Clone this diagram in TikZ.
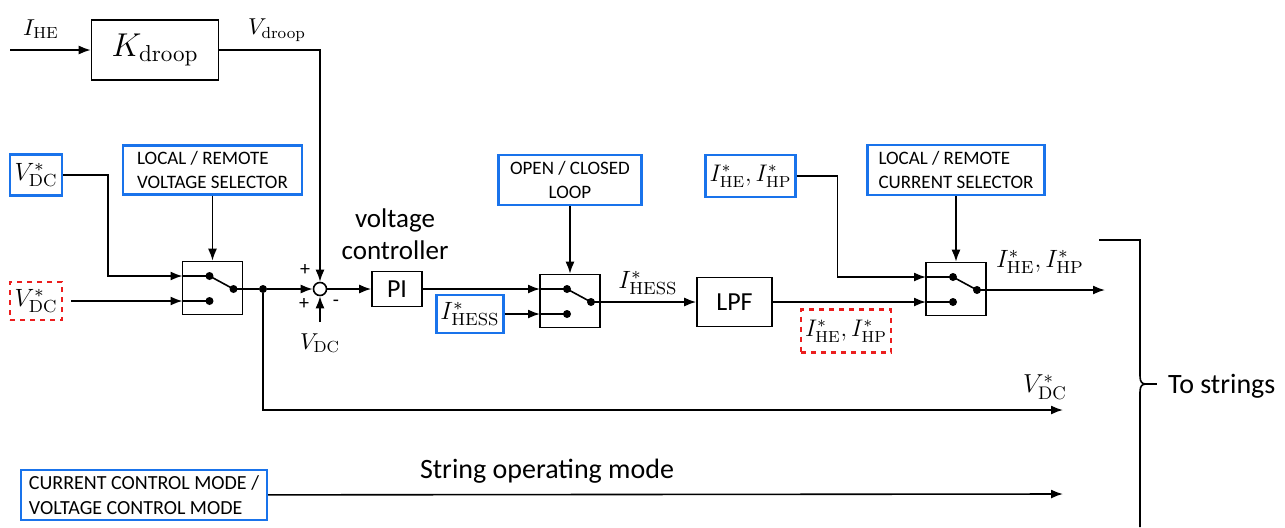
\documentclass[tikz,border=0pt]{standalone}
\usepackage{fix-cm}
\usepackage[no-math]{fontspec}
\setmainfont{Carlito}
\usetikzlibrary{arrows.meta}
\definecolor{selblue}{RGB}{25,115,235}
\definecolor{locred}{RGB}{235,30,30}
\tikzset{sig/.style={thick, -{Latex[length=6pt, width=4.5pt]}},
  blk/.style={draw, thick, inner sep=0pt, font=\fontsize{12}{14}\selectfont},
  sel/.style={draw=selblue, line width=1.2pt, inner sep=2pt, align=left,
    font=\fontsize{9.5}{12}\selectfont},
  remote/.style={draw=locred, line width=1.2pt, dash pattern=on 2.5pt off 2.5pt, inner sep=1pt},
  swbox/.style={draw, thick, minimum width=30pt, minimum height=26.5pt, inner sep=0pt},
  jdot/.style={circle, fill, inner sep=0pt, minimum size=4pt},
  lbl/.style={font=\fontsize{11.5}{13}\selectfont},
  mbox/.style={font=\fontsize{12.5}{15}\selectfont},
}
% switch drawn inside a swbox node
\newcommand{\switchin}[1]{%
  \begin{scope}[shift={(#1.center)}]
    \coordinate (#1-in1) at (-30,-12);
    \coordinate (#1-in2) at (-30,13);
    \coordinate (#1-out) at (30,1);
    \draw[thick] (#1-in1) -- (-3,-12) -- (21,1) -- (#1-out);
    \draw[thick] (#1-in2) -- (-3,13);
    \node[jdot] at (-3,-12) {};
    \node[jdot] at (-3,13) {};
    \node[jdot] at (21,1) {};
  \end{scope}}

\begin{document}
\begin{tikzpicture}[x=0.5pt, y=-0.5pt]
  \useasboundingbox (0,0) rectangle (1285,527);
  %droop path
  \coordinate (ihe) at (10,50);
  \node[blk, minimum width=63.5pt, minimum height=30pt, font=\fontsize{16.5}{18}\selectfont] (kd) at (155,50) {$K_{\mathrm{droop}}$};
  \node[lbl] at (41,29) {$I_{\mathrm{HE}}$};
  \node[lbl] at (277,30) {$V_{\mathrm{droop}}$};
  %voltage selector
  \node[sel, mbox, minimum width=26pt, minimum height=20.5pt, align=center] (vdcl) at (36,175) {$V^{*}_{\mathrm{DC}}$};
  \node[remote, mbox, minimum width=26pt, minimum height=19pt] (vdcr) at (36,301) {$V^{*}_{\mathrm{DC}}$};
  \node[sel, minimum width=89.5pt, minimum height=24.5pt] (vsel) at (212.5,170) {LOCAL / REMOTE\\VOLTAGE SELECTOR};
  \node[swbox] (sw1) at (212.5,288) {};
  \switchin{sw1}
  \node[jdot] (jn) at (263,289) {};
  %summing point and PI
  \node[draw, thick, circle, minimum size=6.5pt, inner sep=0pt, fill=white] (sum) at (320,289) {};
  \coordinate (vdcfb) at (320,322);
  \node[lbl] at (320,343) {$V_{\mathrm{DC}}$};
  \node[font=\fontsize{10}{12}\selectfont] at (305,270) {+};
  \node[font=\fontsize{10}{12}\selectfont] at (304,304) {+};
  \node[font=\fontsize{10}{12}\selectfont] at (336,303) {-};
  \node[align=center, font=\fontsize{13.5}{16}\selectfont] at (395,234) {voltage\\controller};
  \node[blk, minimum width=25pt, minimum height=17.5pt, font=\fontsize{13}{14}\selectfont] (pi) at (397,289) {PI};
  %open/closed loop
  \node[sel, mbox, minimum width=32pt, minimum height=19pt] (ihess) at (470,314) {$I^{*}_{\mathrm{HESS}}$};
  \node[sel, minimum width=71.5pt, minimum height=25pt, align=center] (ocl) at (570,180) {OPEN / CLOSED\\LOOP};
  \node[swbox] (sw2) at (570,301) {};
  \switchin{sw2}
  \node[lbl, font=\fontsize{12.5}{14}\selectfont] at (648,283) {$I^{*}_{\mathrm{HESS}}$};
  \node[blk, minimum width=37.5pt, minimum height=24.5pt, font=\fontsize{13}{14}\selectfont] (lpf) at (734.5,302) {LPF};
  %current selector
  \node[sel, mbox, minimum width=44.5pt, minimum height=21pt, font=\fontsize{12}{14}\selectfont] (ihel) at (750.5,176) {$I^{*}_{\mathrm{HE}}, I^{*}_{\mathrm{HP}}$};
  \node[remote, mbox, minimum width=45pt, minimum height=21.5pt, font=\fontsize{12}{14}\selectfont] (iher) at (846,331) {$I^{*}_{\mathrm{HE}}, I^{*}_{\mathrm{HP}}$};
  \node[sel, minimum width=88.5pt, minimum height=25pt] (csel) at (956,170) {LOCAL / REMOTE\\CURRENT SELECTOR};
  \node[swbox] (sw3) at (956,289) {};
  \switchin{sw3}
  \coordinate (iout) at (1105,290);
  \node[lbl, font=\fontsize{12.5}{14}\selectfont] at (1040,262) {$I^{*}_{\mathrm{HE}}, I^{*}_{\mathrm{HP}}$};
  %outputs
  \coordinate (vdcout) at (1063,410);
  \node[lbl, font=\fontsize{13}{14}\selectfont] at (1045,387) {$V^{*}_{\mathrm{DC}}$};
  \node[sel, minimum width=123pt, minimum height=25pt, font=\fontsize{10}{12.5}\selectfont] (mode) at (144,495) {CURRENT CONTROL MODE /\\VOLTAGE CONTROL MODE};
  \coordinate (modeout) at (1063,494);
  \node[font=\fontsize{14}{16}\selectfont] at (547,471) {String operating mode};
  %connections
  \draw[sig] (ihe) -- (kd);
  \draw[sig] (kd.east) -| (sum.north);
  \draw[sig] (vdcl.east) -- ++(45,0) |- (sw1-in1);
  \draw[sig, shorten <=4pt] (vdcr.east) -- (sw1-in2);
  \draw[sig] (vsel) -- (sw1);
  \draw[thick] (sw1-out) -- (jn);
  \draw[sig] (jn) -- (sum.west);
  \draw[sig] (jn) |- (vdcout);
  \draw[sig] (vdcfb) -- (sum.south);
  \draw[sig] (sum) -- (pi);
  \draw[sig] (pi) -- (sw2-in1);
  \draw[sig] (ihess) -- (sw2-in2);
  \draw[sig] (ocl) -- (sw2);
  \draw[sig] (sw2-out) -- (lpf);
  \draw[sig] (lpf) -- (sw3-in2);
  \draw[sig] (ihel.east) -- ++(41,0) |- (sw3-in1);
  \draw[sig] (csel) -- (sw3);
  \draw[sig] (sw3-out) -- (iout);
  \draw[sig] (mode) -- (modeout);
  %brace to strings
  \draw[thick] (1099,240) -| (1140,376) .. controls (1140,382) and (1142,384) .. (1146,384)
    .. controls (1142,384) and (1140,386) .. (1140,392) -- (1140,527);
  \draw[thick] (1146,384) -- (1157,384);
  \node[anchor=west, font=\fontsize{14}{16}\selectfont] at (1161,386) {To strings};
\end{tikzpicture}
\end{document}
